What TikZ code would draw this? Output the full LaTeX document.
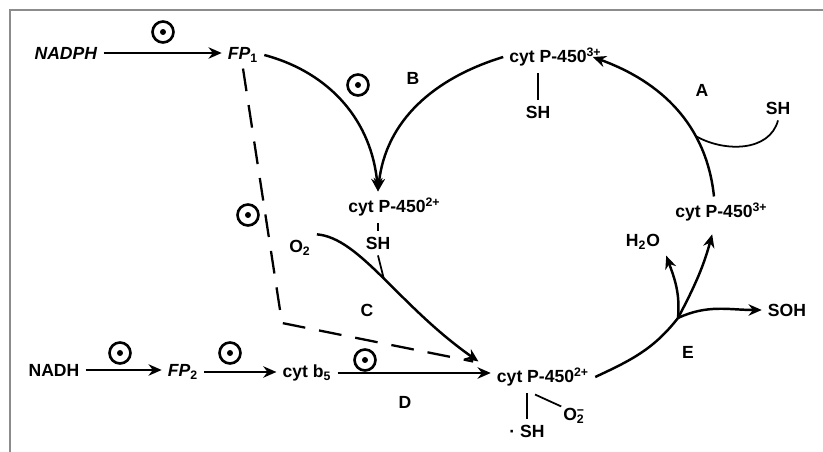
\documentclass[tikz,border=0pt]{standalone}
\usepackage{fontspec}
\setmainfont{Liberation Sans}
\usepackage{tikz}
\usetikzlibrary{
	arrows.meta,
	positioning,
	calc
}

\begin{document}
\begin{tikzpicture}[
			x=0.02cm, y=-0.02cm,
			font=\bfseries\fontsize{10}{12}\selectfont,
			>={Stealth[length=7.5pt, width=6.5pt]},
			fl/.style={->, line width=1.4pt},
			lig/.style={line width=1pt},
			dashl/.style={line width=1.3pt, dash pattern=on 13pt off 8pt},
			elec/.style={circle, draw, line width=1.5pt, minimum size=0.42cm, inner sep=0pt,
				path picture={\fill (path picture bounding box.center) circle (1.7pt);}},
			lbl/.style={inner sep=1pt}
		]

		\useasboundingbox (0,0) rectangle (823,452);
		\draw[black!45, line width=0.7pt] (10,452) -- (10,10) -- (823,10);

		\node (nadph) at (66,53) {\textit{NADPH}};
		\node (fp1) at (243,55) {\textit{FP}\textsubscript{1}};
		\node (top) at (548,57) {cyt P-450\rlap{\textsuperscript{3+}}};
		\node (topsh) at (538,112) {SH};
		\node (sh) at (778,108) {SH};
		\node (mid) at (387,207) {cyt P-450\rlap{\textsuperscript{2+}}};
		\node (midsh) at (378,243) {SH};
		\node (otwo) at (300,248) {O\textsubscript{2}};
		\node (right) at (714,212) {cyt P-450\rlap{\textsuperscript{3+}}};
		\node (water) at (643,242) {H\textsubscript{2}O};
		\node (soh) at (787,310) {SOH};
		\node (nadh) at (54,370) {NADH};
		\node (fp2) at (183,372) {\textit{FP}\textsubscript{2}};
		\node (cytb) at (307,373) {cyt b\textsubscript{5}};
		\node (bot) at (543,377) {cyt P-450\textsuperscript{2+}};
		\node (botsh) at (527,431) {· SH};
		\node[inner sep=1pt] (botox) at (574,416) {O\rlap{\textsuperscript{−}}\textsubscript{2}};

		\node[lbl] (laba) at (702,90) {A};
		\node[lbl] (labb) at (413,78) {B};
		\node[lbl] (labc) at (367,310) {C};
		\node[lbl] (labd) at (405,402) {D};
		\node[lbl] (labe) at (688,352) {E};

		\node[elec] (e1) at (163,32) {};
		\node[elec] (e2) at (358,85) {};
		\node[elec] (e3) at (248,215) {};
		\node[elec] (e4) at (120,353) {};
		\node[elec] (e5) at (230,353) {};
		\node[elec] (e6) at (365,360) {};

		\coordinate (dcorner) at (282,323);
		\coordinate (ebr) at (678,318);

		\draw[fl] (nadph.east) -- (fp1.west |- nadph.east);
		\draw[fl] (fp1.east) to[out=-15, in=95] (mid.north -| midsh);
		\draw[fl] (top.west) to[out=197, in=84] (mid.north -| midsh);
		\draw[fl] (right.north) to[out=96, in=-20] coordinate[pos=0.32] (ajoin) (top.east);
		\draw[lig] (sh.south) to[out=-105, in=-30] (ajoin);
		\draw[lig] (topsh.north) -- (topsh.north |- top.south);
		\draw[lig] (midsh.north) -- (midsh.north |- mid.south);
		\draw[fl] (otwo.north east) .. controls (360,238) and (398,305) .. coordinate[pos=0.5] (cjoin) ([xshift=-7pt]bot.north west);
		\draw[lig] (midsh.south) -- (cjoin);
		\draw[dashl] (fp1.south) -- (dcorner) -- ([xshift=-10pt]bot.north west);
		\draw[fl] (nadh.east) -- (fp2.west |- nadh.east);
		\draw[fl] (fp2.east) -- (cytb.west |- fp2.east);
		\draw[fl] (cytb.east) -- (bot.west |- cytb.east);
		\draw[lig] (botsh.north) -- (botsh.north |- bot.south);
		\draw[lig] ($(botsh.north |- bot.south)+(8,2)$) -- (botox.north west);
		\draw[line width=1.4pt] (bot.east) to[out=25, in=232] (ebr);
		\draw[fl, shorten >=4pt] (ebr) to[out=62, in=-105] (right.south);
		\draw[fl] (ebr) to[out=85, in=-70] (water.south east);
		\draw[fl] (ebr) to[out=25, in=180] (soh.west);
	\end{tikzpicture}
\end{document}
